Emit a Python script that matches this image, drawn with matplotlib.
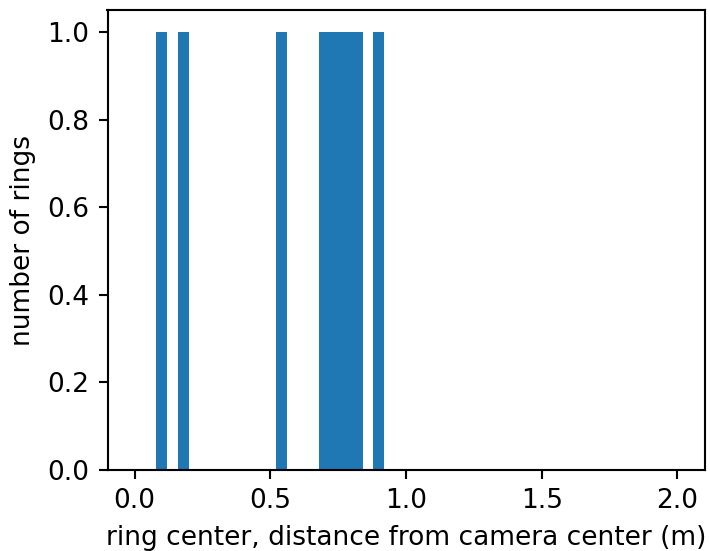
import matplotlib
matplotlib.use('Agg')
import matplotlib.pyplot as plt
import numpy as np

# ring center distances (m), one ring per value
distances = [0.10, 0.18, 0.54, 0.70, 0.74, 0.78, 0.82, 0.90]
n_bins = 50
bin_range = (0.0, 2.0)

dpi = 190
fig = plt.figure(figsize=(710 / dpi, 551 / dpi), dpi=dpi)
ax = fig.add_axes([107.5 / 710, 1 - 470 / 551, 597 / 710, 460 / 551])
ax.hist(distances, bins=n_bins, range=bin_range, color='#1f77b4')
ax.set_xlabel('ring center, distance from camera center (m)')
ax.set_ylabel('number of rings')
fig.savefig('out.png', dpi=dpi)
